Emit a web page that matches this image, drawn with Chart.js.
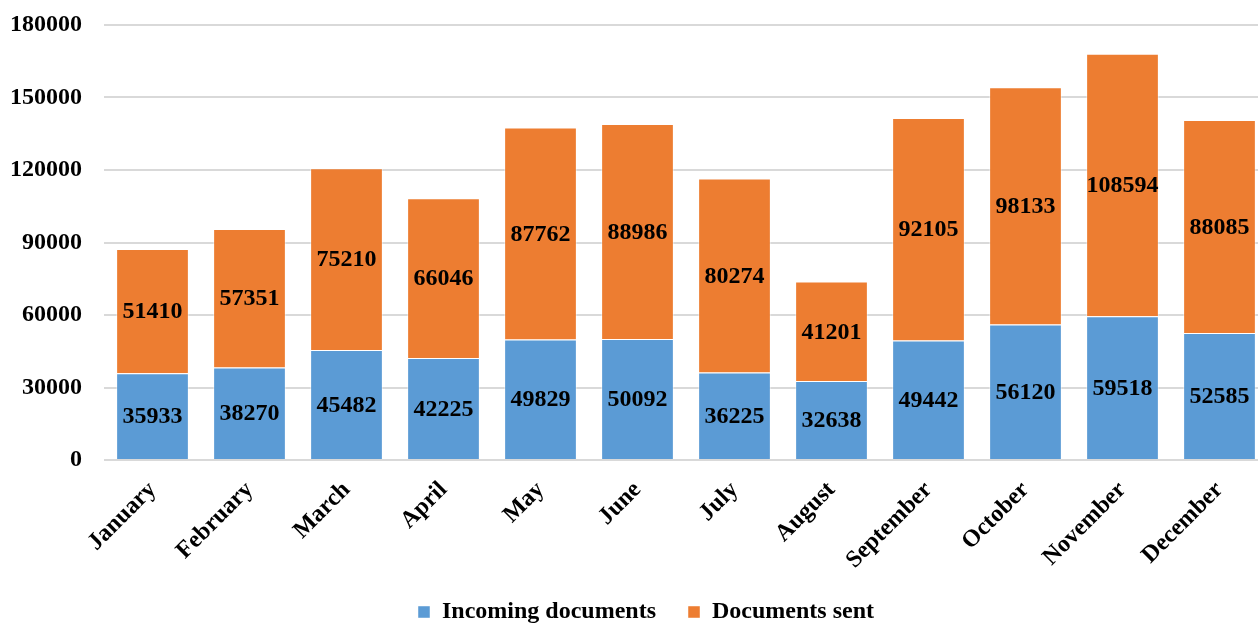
<!DOCTYPE html>
<html>
<head>
<meta charset="utf-8">
<title>Documents by month</title>
<script src="https://cdn.jsdelivr.net/npm/chart.js@4/dist/chart.umd.min.js"></script>
<style>
  html, body { margin: 0; padding: 0; background: #fff; overflow: hidden; }
  #wrap { width: 1268px; height: 634px; }
</style>
</head>
<body>
<div id="wrap"><canvas id="docsChart" width="1268" height="634"></canvas></div>
<script>
// monthly document counts
const months = ['January', 'February', 'March', 'April', 'May', 'June',
                'July', 'August', 'September', 'October', 'November', 'December'];
const incoming = [35933, 38270, 45482, 42225, 49829, 50092, 36225, 32638, 49442, 56120, 59518, 52585];
const sent = [51410, 57351, 75210, 66046, 87762, 88986, 80274, 41201, 92105, 98133, 108594, 88085];
const yTicks = [0, 30000, 60000, 90000, 120000, 150000, 180000];

const serif = '"Liberation Serif", "Times New Roman", serif';
const boldFont = { family: serif, size: 24, weight: 'bold' };

// writes each segment's value in the middle of the segment
const segmentLabels = {
    id: 'segmentLabels',
    afterDatasetsDraw(chart) {
        const ctx = chart.ctx;
        ctx.save();
        ctx.font = 'bold 24px ' + serif;
        ctx.fillStyle = '#000';
        ctx.textAlign = 'center';
        ctx.textBaseline = 'middle';
        chart.data.datasets.forEach((ds, i) => {
            chart.getDatasetMeta(i).data.forEach((bar, j) => {
                const mid = (bar.y + bar.base) / 2;
                ctx.fillText(String(ds.data[j]), bar.x, mid + 1);
            });
        });
        ctx.restore();
    }
};

new Chart(document.getElementById('docsChart'), {
    type: 'bar',
    data: {
        labels: months,
        datasets: [
            {
                label: 'Incoming documents',
                data: incoming,
                backgroundColor: '#5B9BD5',
                borderColor: 'rgba(255,255,255,0.45)',
                borderWidth: 1,
                categoryPercentage: 0.75,
                barPercentage: 1
            },
            {
                label: 'Documents sent',
                data: sent,
                backgroundColor: '#ED7D31',
                borderColor: 'rgba(255,255,255,0.45)',
                borderWidth: 1,
                categoryPercentage: 0.75,
                barPercentage: 1
            }
        ]
    },
    options: {
        responsive: false,
        animation: false,
        layout: { padding: { top: 25, left: 24, right: 0, bottom: 0 } },
        plugins: {
            legend: {
                position: 'bottom',
                labels: {
                    color: '#000',
                    font: boldFont,
                    boxWidth: 12,
                    boxHeight: 12,
                    padding: 32
                }
            },
            tooltip: { enabled: false }
        },
        scales: {
            x: {
                stacked: true,
                grid: { display: false },
                border: { display: false },
                ticks: {
                    color: '#000',
                    font: boldFont,
                    minRotation: 45,
                    maxRotation: 45,
                    autoSkip: false,
                    padding: 8
                },
                afterFit(scale) { scale.height = 108; }
            },
            y: {
                stacked: true,
                min: 0,
                max: 180000,
                afterBuildTicks(scale) {
                    scale.ticks = yTicks.map(v => ({ value: v }));
                },
                grid: { color: '#D9D9D9', lineWidth: 2, drawTicks: false },
                border: { display: false },
                ticks: {
                    color: '#000',
                    font: boldFont,
                    padding: 22,
                    callback: v => String(v)
                },
                // narrow gutter for the tick labels; the tick padding should
                // not push the plot area down, and the labels may run past
                // the axis box into the left padding
                afterFit(scale) {
                    scale.width = 80;
                    scale.paddingTop = 12;
                    scale.paddingBottom = 12;
                    scale._computeLabelArea = () => undefined;
                }
            }
        }
    },
    plugins: [segmentLabels]
});
</script>
</body>
</html>
